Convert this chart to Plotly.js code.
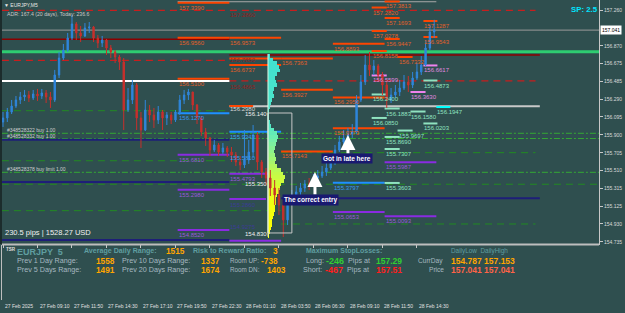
<!DOCTYPE html>
<html><head><meta charset="utf-8">
<script src="https://cdn.plot.ly/plotly-3.0.1.min.js"></script>
<style>html,body{margin:0;padding:0;background:#2F4F4F;}#chart{width:625px;height:313px;}</style>
</head><body><div id="chart"></div>
<script>
// ---------- DATA ----------
// 20-minute candles (every 4th M5 bar), prices
const candleOpen0 = 156.040;
const candleClose = [156.084,156.149,156.214,156.280,156.313,156.334,156.302,156.345,156.323,156.356,
156.313,156.280,156.552,156.737,156.824,156.955,157.108,157.010,156.977,157.064,
157.075,156.955,156.901,156.933,156.846,156.803,156.748,156.694,156.171,156.280,
156.443,156.084,155.953,156.171,156.116,156.062,156.149,156.084,156.116,156.062,
156.149,156.280,156.334,156.367,156.225,156.084,155.931,155.866,155.735,155.790,
155.713,155.757,155.713,155.681,155.604,155.572,155.626,155.713,155.898,155.604,
155.495,155.430,155.321,155.245,155.136,154.973,155.190,155.234,155.278,155.321,
155.365,155.354,155.430,155.452,155.495,155.539,155.593,155.735,155.822,155.866,
155.909,155.931,156.280,156.476,156.661,156.607,156.650,156.552,156.443,156.280,
156.334,156.367,156.410,156.476,156.443,156.519,156.585,156.661,156.846,157.020,
157.041];
const candleHigh = [156.149,156.193,156.280,156.323,156.367,156.389,156.378,156.389,156.400,156.400,
156.389,156.367,156.607,156.803,156.890,157.010,157.206,157.129,157.086,157.118,
157.129,157.086,156.988,156.977,156.944,156.879,156.824,156.770,156.737,156.410,
156.498,156.465,156.149,156.280,156.225,156.193,156.214,156.171,156.149,156.149,
156.171,156.334,156.389,156.400,156.367,156.236,156.105,155.975,155.877,155.844,
155.811,155.811,155.779,155.768,155.713,155.670,155.953,155.844,156.007,155.931,
155.626,155.539,155.517,155.408,155.321,155.190,155.245,155.299,155.343,155.376,
155.408,155.430,155.474,155.517,155.561,155.604,155.659,155.790,155.888,155.953,
155.975,156.018,156.334,156.552,156.770,156.803,156.715,156.672,156.585,156.476,
156.410,156.443,156.498,156.552,156.541,156.585,156.683,156.759,156.933,157.097,
157.153];
const candleLow = [155.986,156.040,156.127,156.193,156.236,156.269,156.258,156.280,156.269,156.291,
156.247,156.193,156.258,156.519,156.715,156.803,156.933,156.933,156.911,156.966,
157.010,156.911,156.846,156.857,156.770,156.737,156.683,156.607,155.953,156.149,
156.236,155.953,155.757,155.942,156.040,155.975,156.018,155.953,156.007,156.018,
156.040,156.116,156.236,156.280,156.171,156.018,155.888,155.779,155.670,155.713,
155.670,155.692,155.659,155.604,155.561,155.517,155.539,155.583,155.648,155.517,
155.430,155.354,155.234,155.136,155.027,154.787,154.918,155.136,155.190,155.245,
155.278,155.299,155.332,155.387,155.430,155.452,155.517,155.572,155.713,155.790,
155.844,155.866,155.909,156.258,156.443,156.541,156.552,156.476,156.334,156.193,
156.247,156.302,156.323,156.389,156.367,156.410,156.498,156.552,156.650,156.824,
156.955];
const barsPerCandle = 4;

// price axis (157.065 is hidden under the last-price box in the picture)
const priceTicks = [157.260,156.870,156.675,156.485,156.290,156.095,155.900,155.705,155.510,155.315,155.125,154.930,154.735];
const priceTickText = ['157.260','156.870','156.675','156.485','156.290','156.095','155.900','155.705','155.510','155.315','155.125','154.930','154.735'];
const lastPrice = 157.041;

// time axis (M5 bar index of each label)
const timeTickBar = [0,32,64,96,128,160,192,224,256,288,320,352,384];
const timeTickText = ['27 Feb 2025','27 Feb 09:10','27 Feb 11:50','27 Feb 14:30','27 Feb 17:10','27 Feb 19:50','27 Feb 22:30','28 Feb 01:10','28 Feb 03:50','28 Feb 06:30','28 Feb 09:10','28 Feb 11:50','28 Feb 14:30'];

// level groups: price, from bar, to bar, label
const orangePrice = [157.340,156.958,156.958,156.732,156.732,156.661,156.512,156.392,156.893,156.307,155.971,155.719,156.214,157.353,157.287,157.173,157.031,156.944,156.813,157.140,156.966,156.748];
const orangeFrom  = [162,162,210,258,210,210,162,258,306,306,306,258,210,354,342,354,342,354,342,390,390,366];
const orangeTo    = [210,210,258,306,258,258,210,306,354,354,354,306,232,368,356,368,356,368,356,403,403,380];
const orangeText  = ['157.3390','156.9560','156.9573','156.7363','','156.6737','156.5100','156.3927','156.8893','156.2950','155.9773','155.7143','','157.3813','157.2820','157.1693','157.0278','156.9447','156.8158','157.1287','156.9543','156.7332'];

const purplePrice = [155.684,155.477,155.303,154.864,155.060,155.013,155.601,154.747,155.201];
const purpleFrom  = [162,210,162,162,306,354,354,210,210];
const purpleTo    = [210,258,210,210,354,402,402,258,244];
const purpleText  = ['155.6810','155.4793','155.2980','154.8520','155.0653','155.0093','155.5987','',''];

const bluePrice = [156.135,155.934,155.379];
const blueFrom  = [162,210,306];
const blueTo    = [210,258,354];
const blueText  = ['156.1270','155.9343','155.3797'];

const mintPrice = [156.084,155.877,155.746,155.376,156.187,156.340,156.154,156.024,156.492,155.947,156.203];
const mintFrom  = [342,354,354,354,354,342,378,390,390,366,402];
const mintTo    = [356,368,368,368,368,356,392,403,403,380,415];
const mintText  = ['156.0850','155.8690','155.7307','155.3603','156.1883','156.2400','156.1580','156.0203','156.4873','155.9697','156.1947'];

const violetPrice = [156.656,156.367,156.547];
const violetFrom  = [390,378,342];
const violetTo    = [403,392,356];
const violetText  = ['156.6617','156.3630','156.5599'];

const navyPrice = [155.847,155.387,155.209,154.755];
const navyFrom  = [-1,-1,258,-1];
const navyTo    = [210,210,498,210];

const darkRedPrice = [156.941,156.770];
const darkRedFrom  = [-1,210];
const darkRedTo    = [210,498];

const redDashPrice = [157.257,156.712,156.487];
const redDashFrom  = [-1,-1,210];
const redDashTo    = [494,210,494];

const greenDashDotPrice = [155.917,155.860,155.492];
const greenDashPrice = [156.163,155.618,155.706,155.362,155.074,154.929];
const greenDashFrom  = [-1,-1,258,-1,-1,258];
const greenDashTo    = [210,210,494,553,258,494];

const whitePrice = 156.487;
const greyPrice = 156.211;
const topGreyPrice = 157.350;
const greenMainPrice = 156.806;

// free texts next to levels
const darkRedLabel = ['157.2860','156.7850','156.4865'];
const darkRedLabelPrice = [157.249,156.754,156.470];
const navyLabel = ['155.2860','154.9275'];
const navyLabelPrice = [155.179,154.935];
const blueOnlyLabel = ['155.5810'];
const blueOnlyLabelPrice = [155.692];
const greyLabel = ['156.2980'];
const greyLabelPrice = [156.230];

// range box
const boxHigh = 156.138, boxMid = 155.350, boxLow = 154.831;
const boxFrom = 245.8, boxTo = 268;
const boxLabels = ['156.140','155.350','154.830'];

// volume profile
const profilePrice = [156.76,156.72,156.68,156.64,156.60,156.56,156.52,156.48,156.44,156.40,
156.36,156.32,156.28,156.24,156.20,156.16,156.12,156.08,156.04,156.00,
155.96,155.92,155.88,155.84,155.80,155.76,155.72,155.68,155.64,155.60,
155.56,155.52,155.48,155.44,155.40,155.36,155.32,155.28,155.24,155.20,
155.16,155.12,155.08,155.04,155.00,154.96,154.92,154.88,154.84,154.80];
const profileVolume = [2,5,9,11,12,9,7,8,9,6,
5,6,4,3,2,1.5,1.5,1.5,2,3,
6,9,10,9,8,7,6,7,8,7,
9,13,15,17,16,13,12,11,9,8,
8,7,7,6,5,4,4,3,2,1];

// ---------- DRAWING ----------
const FONT = 'Liberation Sans, Arial, DejaVu Sans, sans-serif';
const PXPERBAR = 597/553.83;
const X = px => (px-2)/597;
const Y = py => (300-py)/300;

const cx = candleClose.map((_,k)=>k*barsPerCandle);
const co = candleClose.map((c,k)=> k===0 ? candleOpen0 : candleClose[k-1]);

const traces = [];
traces.push({type:'candlestick', x:cx, open:co, high:candleHigh, low:candleLow, close:candleClose,
  increasing:{line:{color:'#2F86DC',width:1}, fillcolor:'#2F86DC'},
  decreasing:{line:{color:'#C8302C',width:1}, fillcolor:'#C8302C'},
  whiskerwidth:0, hoverinfo:'skip', xaxis:'x', yaxis:'y'});

function lerp(a,b,t){return a+(b-a)*t;}
function profColor(p){
  const t=(p-154.80)/(156.76-154.80);
  const stops=[[0,[255,255,0]],[0.2,[240,255,20]],[0.36,[190,250,80]],[0.52,[120,240,165]],[0.62,[80,230,200]],[1,[64,224,208]]];
  for(let i=0;i<stops.length-1;i++){
    const [t0,c0]=stops[i],[t1,c1]=stops[i+1];
    if(t>=t0&&t<=t1){const u=(t-t0)/(t1-t0);return `rgb(${Math.round(lerp(c0[0],c1[0],u))},${Math.round(lerp(c0[1],c1[1],u))},${Math.round(lerp(c0[2],c1[2],u))})`;}
  }
  return 'rgb(64,224,208)';
}
traces.push({type:'bar', orientation:'h', y:profilePrice, x:profileVolume.map(v=>v/PXPERBAR), base:boxFrom,
  width:0.04, marker:{color:profilePrice.map(profColor), line:{width:0}}, hoverinfo:'skip', xaxis:'x', yaxis:'y'});

const shapes = [];
const annotations = [];
function hline(p,x0,x1,color,width,dash,layer){
  shapes.push({type:'line', xref:'x', yref:'y', x0:x0, x1:x1, y0:p, y1:p, layer:layer||'below',
    line:{color:color, width:width, dash:dash||'solid'}});
}
function lab(text,x,p,color,opts){
  if(!text) return;
  opts=opts||{};
  annotations.push({xref:'x', yref:'y', x:x, y:p, text:text, showarrow:false,
    xanchor:opts.xanchor||'left', yanchor:opts.yanchor||'top', yshift:opts.yshift===undefined?-1:opts.yshift,
    borderpad:0, font:{family:FONT, size:opts.size||6, color:color}});
}
function ptext(px,py,text,color,size,bold,xanchor){
  annotations.push({xref:'paper', yref:'paper', x:X(px), y:Y(py), text: bold?'<b>'+text+'</b>':text,
    showarrow:false, xanchor:xanchor||'left', yanchor:'middle', borderpad:0,
    font:{family:FONT, size:size, color:color}});
}

// full-width and long lines
hline(lastPrice,-1,553,'#9A9A9A',1);
hline(topGreyPrice,162,402,'#A8A8A8',1);
redDashPrice.forEach((p,i)=>hline(p,redDashFrom[i],redDashTo[i],'#C81E1E',1.3,'7px,5px'));
darkRedPrice.forEach((p,i)=>hline(p,darkRedFrom[i],darkRedTo[i],'#8B0000',1.5));
hline(whitePrice,-1,210,'#FFFFFF',2);
hline(greyPrice,210,498,'#C8C8C8',2);
greenDashDotPrice.forEach(p=>hline(p,-1,553,'#34A834',1,'6px,2px,2px,2px'));
greenDashPrice.forEach((p,i)=>hline(p,greenDashFrom[i],greenDashTo[i],'#228B22',1,'7px,5px'));
navyPrice.forEach((p,i)=>hline(p,navyFrom[i],navyTo[i],'#1E1E78',2));
hline(greenMainPrice,-1,553,'#2ECC71',3);

orangePrice.forEach((p,i)=>{hline(p,orangeFrom[i],orangeTo[i],'#FF4500',2); lab(orangeText[i],orangeFrom[i],p,'#E2602A');});
purplePrice.forEach((p,i)=>{hline(p,purpleFrom[i],purpleTo[i],'#8A2BE2',2); lab(purpleText[i],purpleFrom[i],p,'#9A5AD8');});
bluePrice.forEach((p,i)=>{hline(p,blueFrom[i],blueTo[i],'#1E90FF',2); lab(blueText[i],blueFrom[i],p,'#3A9AF0');});
mintPrice.forEach((p,i)=>{hline(p,mintFrom[i],mintTo[i],i===mintPrice.length-1?'#00FFFF':'#8FE3C0',2); lab(mintText[i],mintFrom[i],p,'#8FE3C0');});
violetPrice.forEach((p,i)=>{hline(p,violetFrom[i],violetTo[i],'#EE82EE',2); lab(violetText[i],violetFrom[i],p,'#E08AE0');});
darkRedLabel.forEach((t,i)=>lab(t,210,darkRedLabelPrice[i],'#962020',{yshift:0}));
navyLabel.forEach((t,i)=>lab(t,210,navyLabelPrice[i],'#3C3C96',{yshift:0}));
blueOnlyLabel.forEach((t,i)=>lab(t,210,blueOnlyLabelPrice[i],'#3A9AF0',{yshift:0}));
greyLabel.forEach((t,i)=>lab(t,210,greyLabelPrice[i],'#D8D8D8',{yshift:0}));

// range box and profile base
shapes.push({type:'rect', xref:'x', yref:'y', x0:boxFrom, x1:boxTo, y0:boxLow, y1:boxHigh, layer:'above', line:{color:'#C8C8C8', width:1}});
shapes.push({type:'line', xref:'x', yref:'y', x0:boxFrom, x1:boxFrom, y0:154.79, y1:156.78, layer:'above', line:{color:'rgba(235,255,235,0.9)', width:1}});
lab(boxLabels[0],boxFrom,boxHigh,'#F0F0F0',{xanchor:'right',yanchor:'middle',yshift:-1});
lab(boxLabels[1],boxFrom,boxMid,'#F0F0F0',{xanchor:'right',yanchor:'middle',yshift:1});
lab(boxLabels[2],boxFrom,boxLow,'#F0F0F0',{xanchor:'right',yanchor:'middle',yshift:-1});

// arrows + notes
annotations.push({xref:'x', yref:'y', x:320, y:155.898, ax:0, ay:20, text:'', showarrow:true, arrowhead:2, arrowsize:1, arrowwidth:3, arrowcolor:'#FFFFFF'});
annotations.push({xref:'x', yref:'y', x:289.4, y:155.495, ax:0, ay:24, text:'', showarrow:true, arrowhead:2, arrowsize:1, arrowwidth:3, arrowcolor:'#FFFFFF'});
annotations.push({xref:'x', yref:'y', x:319, y:155.637, text:'<b>Got in late here</b>', showarrow:false, bgcolor:'#191970', borderpad:1, xanchor:'center', yanchor:'middle', font:{family:FONT,size:6.5,color:'#FFFFFF'}});
annotations.push({xref:'x', yref:'y', x:285.7, y:155.190, text:'<b>The correct entry</b>', showarrow:false, bgcolor:'#191970', borderpad:1, xanchor:'center', yanchor:'middle', font:{family:FONT,size:6.5,color:'#FFFFFF'}});

// chart texts
ptext(3,5.5,'▼ EURJPY,M5','#E8E8E8',5);
ptext(6,13.5,'ADR: 167.4 (20 days), Today: 236.6','#C8C8C8',5.2);
ptext(6,130,'#348528322 buy 1.00','#D0D0D0',5);
ptext(6,135.8,'#348528332 buy 1.00','#D0D0D0',5);
ptext(6,169,'#348528378 buy limit 1.00','#D0D0D0',5);
ptext(4,232,'230.5 pips | 1528.27 USD','#F0F0F0',7.5);
ptext(570,10,'SP: 2.5','#00E5FF',7.8,true);
annotations.push({xref:'paper', yref:'y', x:X(600), y:lastPrice, text:'157.041', showarrow:false, xanchor:'left', yanchor:'middle', bgcolor:'#FFFFFF', borderpad:1, font:{family:FONT,size:5,color:'#000000'}});

// time labels
timeTickBar.forEach((b,i)=>annotations.push({xref:'x', yref:'paper', x:b, y:Y(306), xshift:1, text:timeTickText[i], showarrow:false, xanchor:'left', yanchor:'middle', borderpad:0, font:{family:FONT,size:5,color:'#E0E0E0'}}));

// indicator panel texts
const CAD='#5F9EA0', GRY='#A6B8C0', ORG='#FFA500';
ptext(5,249.5,'TSR','#E0E0E0',4.5,true);
ptext(16,251.5,'EURJPY  5',CAD,9,true);
ptext(83,251,'Average Daily Range:',CAD,7.1,true);
ptext(165,251,'1515',ORG,8.3,true);
ptext(192,251,'Risk to Reward Ratio:',CAD,7.1,true);
ptext(272,251,'3',ORG,8.3,true);
ptext(305,251,'Maximum StopLosses:',CAD,7,true);
ptext(450,250.5,'DailyLow  DailyHigh',CAD,6.4);
ptext(16,260.5,'Prev 1 Day Range:',GRY,7.2);
ptext(95,260.5,'1558',ORG,8.3,true);
ptext(121,260.5,'Prev 10 Days Range:',GRY,7.2);
ptext(200,260.5,'1337',ORG,8.3,true);
ptext(229,260.5,'Room UP:',GRY,6.3);
ptext(260,260.5,'-738',ORG,8.3,true);
ptext(305,260.5,'Long:',GRY,7.2);
ptext(325,260.5,'-246','#32CD32',9,true);
ptext(347,260.5,'Pips at',GRY,7.2);
ptext(375,260.5,'157.29','#32CD32',8.5,true);
ptext(417,260.5,'CurrDay',GRY,6.6);
ptext(450,260.5,'154.787 157.153',ORG,8.5,true);
ptext(16,269.5,'Prev 5 Days Range:',GRY,7.2);
ptext(95,269.5,'1491',ORG,8.3,true);
ptext(121,269.5,'Prev 20 Days Range:',GRY,7.2);
ptext(200,269.5,'1674',ORG,8.3,true);
ptext(229,269.5,'Room DN:',GRY,6.3);
ptext(266,269.5,'1403',ORG,8.3,true);
ptext(302,269.5,'Short:',GRY,7.2);
ptext(324,269.5,'-467','#FF1E1E',9,true);
ptext(346,269.5,'Pips at',GRY,7.2);
ptext(375,269.5,'157.51','#FF1E1E',8.5,true);
ptext(428,269.5,'Price',GRY,6.6);
ptext(450,269.5,'157.041 157.041','#FF6347',8.5,true);

// frame pieces
shapes.push({type:'line', xref:'paper', yref:'paper', x0:0, x1:1, y0:Y(244.5), y1:Y(244.5), line:{color:'#BEBEBE', width:2}});
shapes.push({type:'line', xref:'paper', yref:'paper', x0:X(1), x1:X(1), y0:Y(244), y1:1, line:{color:'#1C2C2C', width:2}});
shapes.push({type:'line', xref:'paper', yref:'paper', x0:X(1.5), x1:X(1.5), y0:0, y1:Y(245), line:{color:'#BEBEBE', width:1}});

const axFont = {family:FONT, size:5, color:'#DADADA'};
const layout = {
  width:625, height:313,
  margin:{l:2, r:26, t:0, b:13, pad:0},
  paper_bgcolor:'#2F4F4F', plot_bgcolor:'#2F4F4F',
  showlegend:false, hovermode:false, bargap:0, boxgap:0.55,
  xaxis:{type:'linear', range:[-0.93,552.9], anchor:'y2', showgrid:false, zeroline:false,
    showline:true, linecolor:'#C8C8C8', linewidth:1, ticks:'outside', ticklen:3, tickcolor:'#C8C8C8',
    tickvals:timeTickBar, showticklabels:false, rangeslider:{visible:false}, fixedrange:true},
  yaxis:{domain:[Y(244),1], range:[154.711,157.369], side:'right', anchor:'x', showgrid:false, zeroline:false,
    showline:true, linecolor:'#C8C8C8', linewidth:1, ticks:'outside', ticklen:3, tickcolor:'#C8C8C8',
    tickvals:priceTicks, ticktext:priceTickText, tickfont:axFont, fixedrange:true},
  yaxis2:{domain:[0,Y(246)], range:[-0.06,1], side:'right', anchor:'x', showgrid:false, zeroline:false,
    showline:true, linecolor:'#C8C8C8', linewidth:1, ticks:'outside', ticklen:3, tickcolor:'#C8C8C8',
    tickvals:[0], ticktext:['0'], tickfont:axFont, fixedrange:true},
  shapes:shapes, annotations:annotations
};
Plotly.newPlot('chart', traces, layout, {staticPlot:true, displayModeBar:false});
</script></body></html>
